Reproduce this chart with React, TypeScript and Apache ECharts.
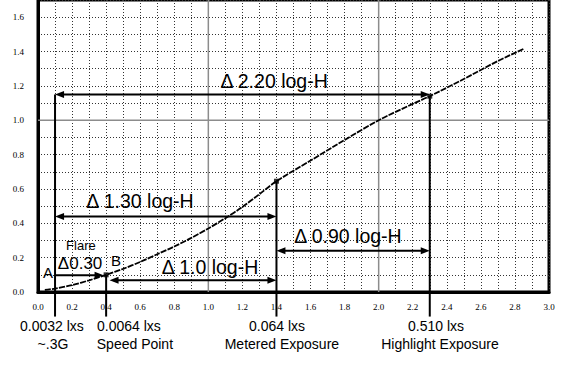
import React, { useEffect, useRef } from "react";
import * as echarts from "echarts";

// Characteristic curve (log-H vs density)
const curveX = [0.04, 0.1, 0.2, 0.3, 0.4, 0.5, 0.6, 0.7, 0.8, 0.9, 1.0, 1.1, 1.2, 1.3, 1.4, 1.6, 1.8, 2.0, 2.2, 2.3, 2.5, 2.7, 2.85];
const curveY = [0.012, 0.02, 0.04, 0.068, 0.1, 0.135, 0.175, 0.22, 0.265, 0.315, 0.37, 0.43, 0.495, 0.57, 0.645, 0.765, 0.885, 1.0, 1.095, 1.14, 1.24, 1.345, 1.415];

// Key points on the curve
const keyX = [0.4, 1.4, 2.3];
const keyY = [0.1, 0.645, 1.14];

// Vertical marker lines (log-H position, top density)
const markerX = [0.1, 0.4, 1.4, 2.3];
const markerTop = [1.15, 0.1, 0.645, 1.14];
const markerBottom = -0.143;

// Span arrows: from, to, density level, heads (1 = right only, 2 = both)
const arrowFrom = [0.1, 0.1, 1.4, 0.42, 0.1];
const arrowTo = [2.3, 1.4, 2.3, 1.4, 0.385];
const arrowLevel = [1.15, 0.44, 0.24, 0.068, 0.098];
const arrowHeads = [2, 2, 2, 2, 1];

// Reference solid gray lines
const grayVerticals = [1.0, 2.0];
const grayHorizontals = [1.0];

// Axis ranges
const xMin = 0, xMax = 3, xStep = 0.1;
const yMin = 0, yMax = 1.7, yStep = 0.1;

// Annotation texts
const annotations = [
  { text: "Δ 2.20 log-H", x: 1.386, y: 1.231, size: 19.5 },
  { text: "Δ 1.30 log-H", x: 0.599, y: 0.527, size: 19.5 },
  { text: "Δ 0.90 log-H", x: 1.82, y: 0.326, size: 19.5 },
  { text: "Δ 1.0 log-H", x: 1.01, y: 0.143, size: 19.5 },
  { text: "Flare", x: 0.252, y: 0.272, size: 13 },
  { text: "Δ0.30", x: 0.247, y: 0.166, size: 17 },
  { text: "B", x: 0.458, y: 0.183, size: 15 },
  { text: "A", x: 0.059, y: 0.114, size: 15 },
  { text: "0.0032 lxs", x: 0.082, y: -0.2, size: 14 },
  { text: "~.3G", x: 0.088, y: -0.303, size: 14 },
  { text: "0.0064 lxs", x: 0.534, y: -0.2, size: 14 },
  { text: "Speed Point", x: 0.569, y: -0.303, size: 14 },
  { text: "0.064 lxs", x: 1.403, y: -0.2, size: 14 },
  { text: "Metered Exposure", x: 1.432, y: -0.303, size: 14 },
  { text: "0.510 lxs", x: 2.337, y: -0.2, size: 14 },
  { text: "Highlight Exposure", x: 2.36, y: -0.303, size: 14 },
];

const SANS = '"Liberation Sans", Arial, Helvetica, sans-serif';

const tickFmt = (v: number) => (Math.round(v * 10) % 2 === 0 ? v.toFixed(1) : "");

export default function App() {
  const ref = useRef<HTMLDivElement>(null);
  useEffect(() => {
    const chart = echarts.init(ref.current!, null, { renderer: "svg" });
    const splitStyle = { color: "#333", type: [1, 2] as any, width: 1 };
    const tickLabel = { formatter: tickFmt, fontFamily: '"Liberation Serif", serif', fontSize: 9, color: "#000" };
    const option: any = {
      animation: false,
      grid: { left: 38, right: 27, top: -5, bottom: 76, show: true, borderColor: "#000", borderWidth: 3 },
      xAxis: {
        type: "value",
        min: xMin,
        max: xMax,
        interval: xStep,
        axisLine: { show: true, lineStyle: { color: "#000", width: 3 } },
        axisTick: { show: false },
        axisLabel: { ...tickLabel, margin: 10 },
        splitLine: { show: true, lineStyle: splitStyle },
      },
      yAxis: {
        type: "value",
        min: yMin,
        max: yMax,
        interval: yStep,
        axisLine: { show: true, lineStyle: { color: "#000", width: 3 } },
        axisTick: { show: false },
        axisLabel: { ...tickLabel, margin: 14 },
        splitLine: { show: true, lineStyle: splitStyle },
      },
      series: [
        {
          type: "custom",
          name: "gray",
          z: 1,
          clip: false,
          silent: true,
          data: [
            ...grayVerticals.map((v) => [0, v]),
            ...grayHorizontals.map((v) => [1, v]),
          ],
          renderItem: (params: any, api: any) => {
            const orient = api.value(0);
            const v = api.value(1);
            const a = orient === 0 ? api.coord([v, yMin]) : api.coord([xMin, v]);
            const b = orient === 0 ? api.coord([v, yMax]) : api.coord([xMax, v]);
            return {
              type: "line",
              shape: { x1: a[0], y1: a[1], x2: b[0], y2: b[1] },
              style: { stroke: "#8c8c8c", lineWidth: 1.5 },
            };
          },
        },
        {
          type: "line",
          name: "curve",
          z: 3,
          data: curveX.map((x, i) => [x, curveY[i]]),
          showSymbol: false,
          smooth: 0.3,
          lineStyle: { color: "#000", width: 1.8, type: [6, 1.2] },
        },
        {
          type: "custom",
          name: "markers",
          z: 3,
          clip: false,
          silent: true,
          data: markerX.map((x, i) => [x, markerTop[i]]),
          renderItem: (params: any, api: any) => {
            const a = api.coord([api.value(0), api.value(1)]);
            const b = api.coord([api.value(0), markerBottom]);
            return {
              type: "line",
              shape: { x1: a[0], y1: a[1], x2: b[0], y2: b[1] },
              style: { stroke: "#000", lineWidth: 2 },
            };
          },
        },
        {
          type: "custom",
          name: "arrows",
          z: 4,
          clip: false,
          silent: true,
          data: arrowFrom.map((x, i) => [x, arrowTo[i], arrowLevel[i], arrowHeads[i]]),
          encode: { x: [0, 1], y: 2 },
          renderItem: (params: any, api: any) => {
            const p1 = api.coord([api.value(0), api.value(2)]);
            const p2 = api.coord([api.value(1), api.value(2)]);
            const heads = api.value(3);
            const L = 9, W = 3.5;
            const children: any[] = [
              {
                type: "line",
                shape: { x1: p1[0] + (heads === 2 ? 4 : 0), y1: p1[1], x2: p2[0] - 4, y2: p2[1] },
                style: { stroke: "#000", lineWidth: 2 },
              },
              {
                type: "polygon",
                shape: { points: [[p2[0], p2[1]], [p2[0] - L, p2[1] - W], [p2[0] - L, p2[1] + W]] },
                style: { fill: "#000" },
              },
            ];
            if (heads === 2) {
              children.push({
                type: "polygon",
                shape: { points: [[p1[0], p1[1]], [p1[0] + L, p1[1] - W], [p1[0] + L, p1[1] + W]] },
                style: { fill: "#000" },
              });
            }
            return { type: "group", children };
          },
        },
        {
          type: "scatter",
          name: "points",
          z: 5,
          data: keyX.map((x, i) => [x, keyY[i]]),
          symbol: "rect",
          symbolSize: 5,
          itemStyle: { color: "#000" },
        },
        {
          type: "custom",
          name: "labels",
          z: 6,
          clip: false,
          silent: true,
          data: annotations.map((a) => [a.x, a.y]),
          renderItem: (params: any, api: any) => {
            const a = annotations[params.dataIndex];
            const p = api.coord([api.value(0), api.value(1)]);
            return {
              type: "text",
              style: {
                text: a.text,
                x: p[0],
                y: p[1],
                font: `${a.size}px ${SANS}`,
                fill: "#000",
                align: "center",
                verticalAlign: "middle",
                textAlign: "center",
                textVerticalAlign: "middle",
              },
            };
          },
        },
      ],
    };
    chart.setOption(option);
    return () => chart.dispose();
  }, []);
  return (
    <div
      ref={ref}
      style={{ position: "fixed", left: 0, top: 0, width: 576, height: 368, background: "#fff" }}
    />
  );
}
